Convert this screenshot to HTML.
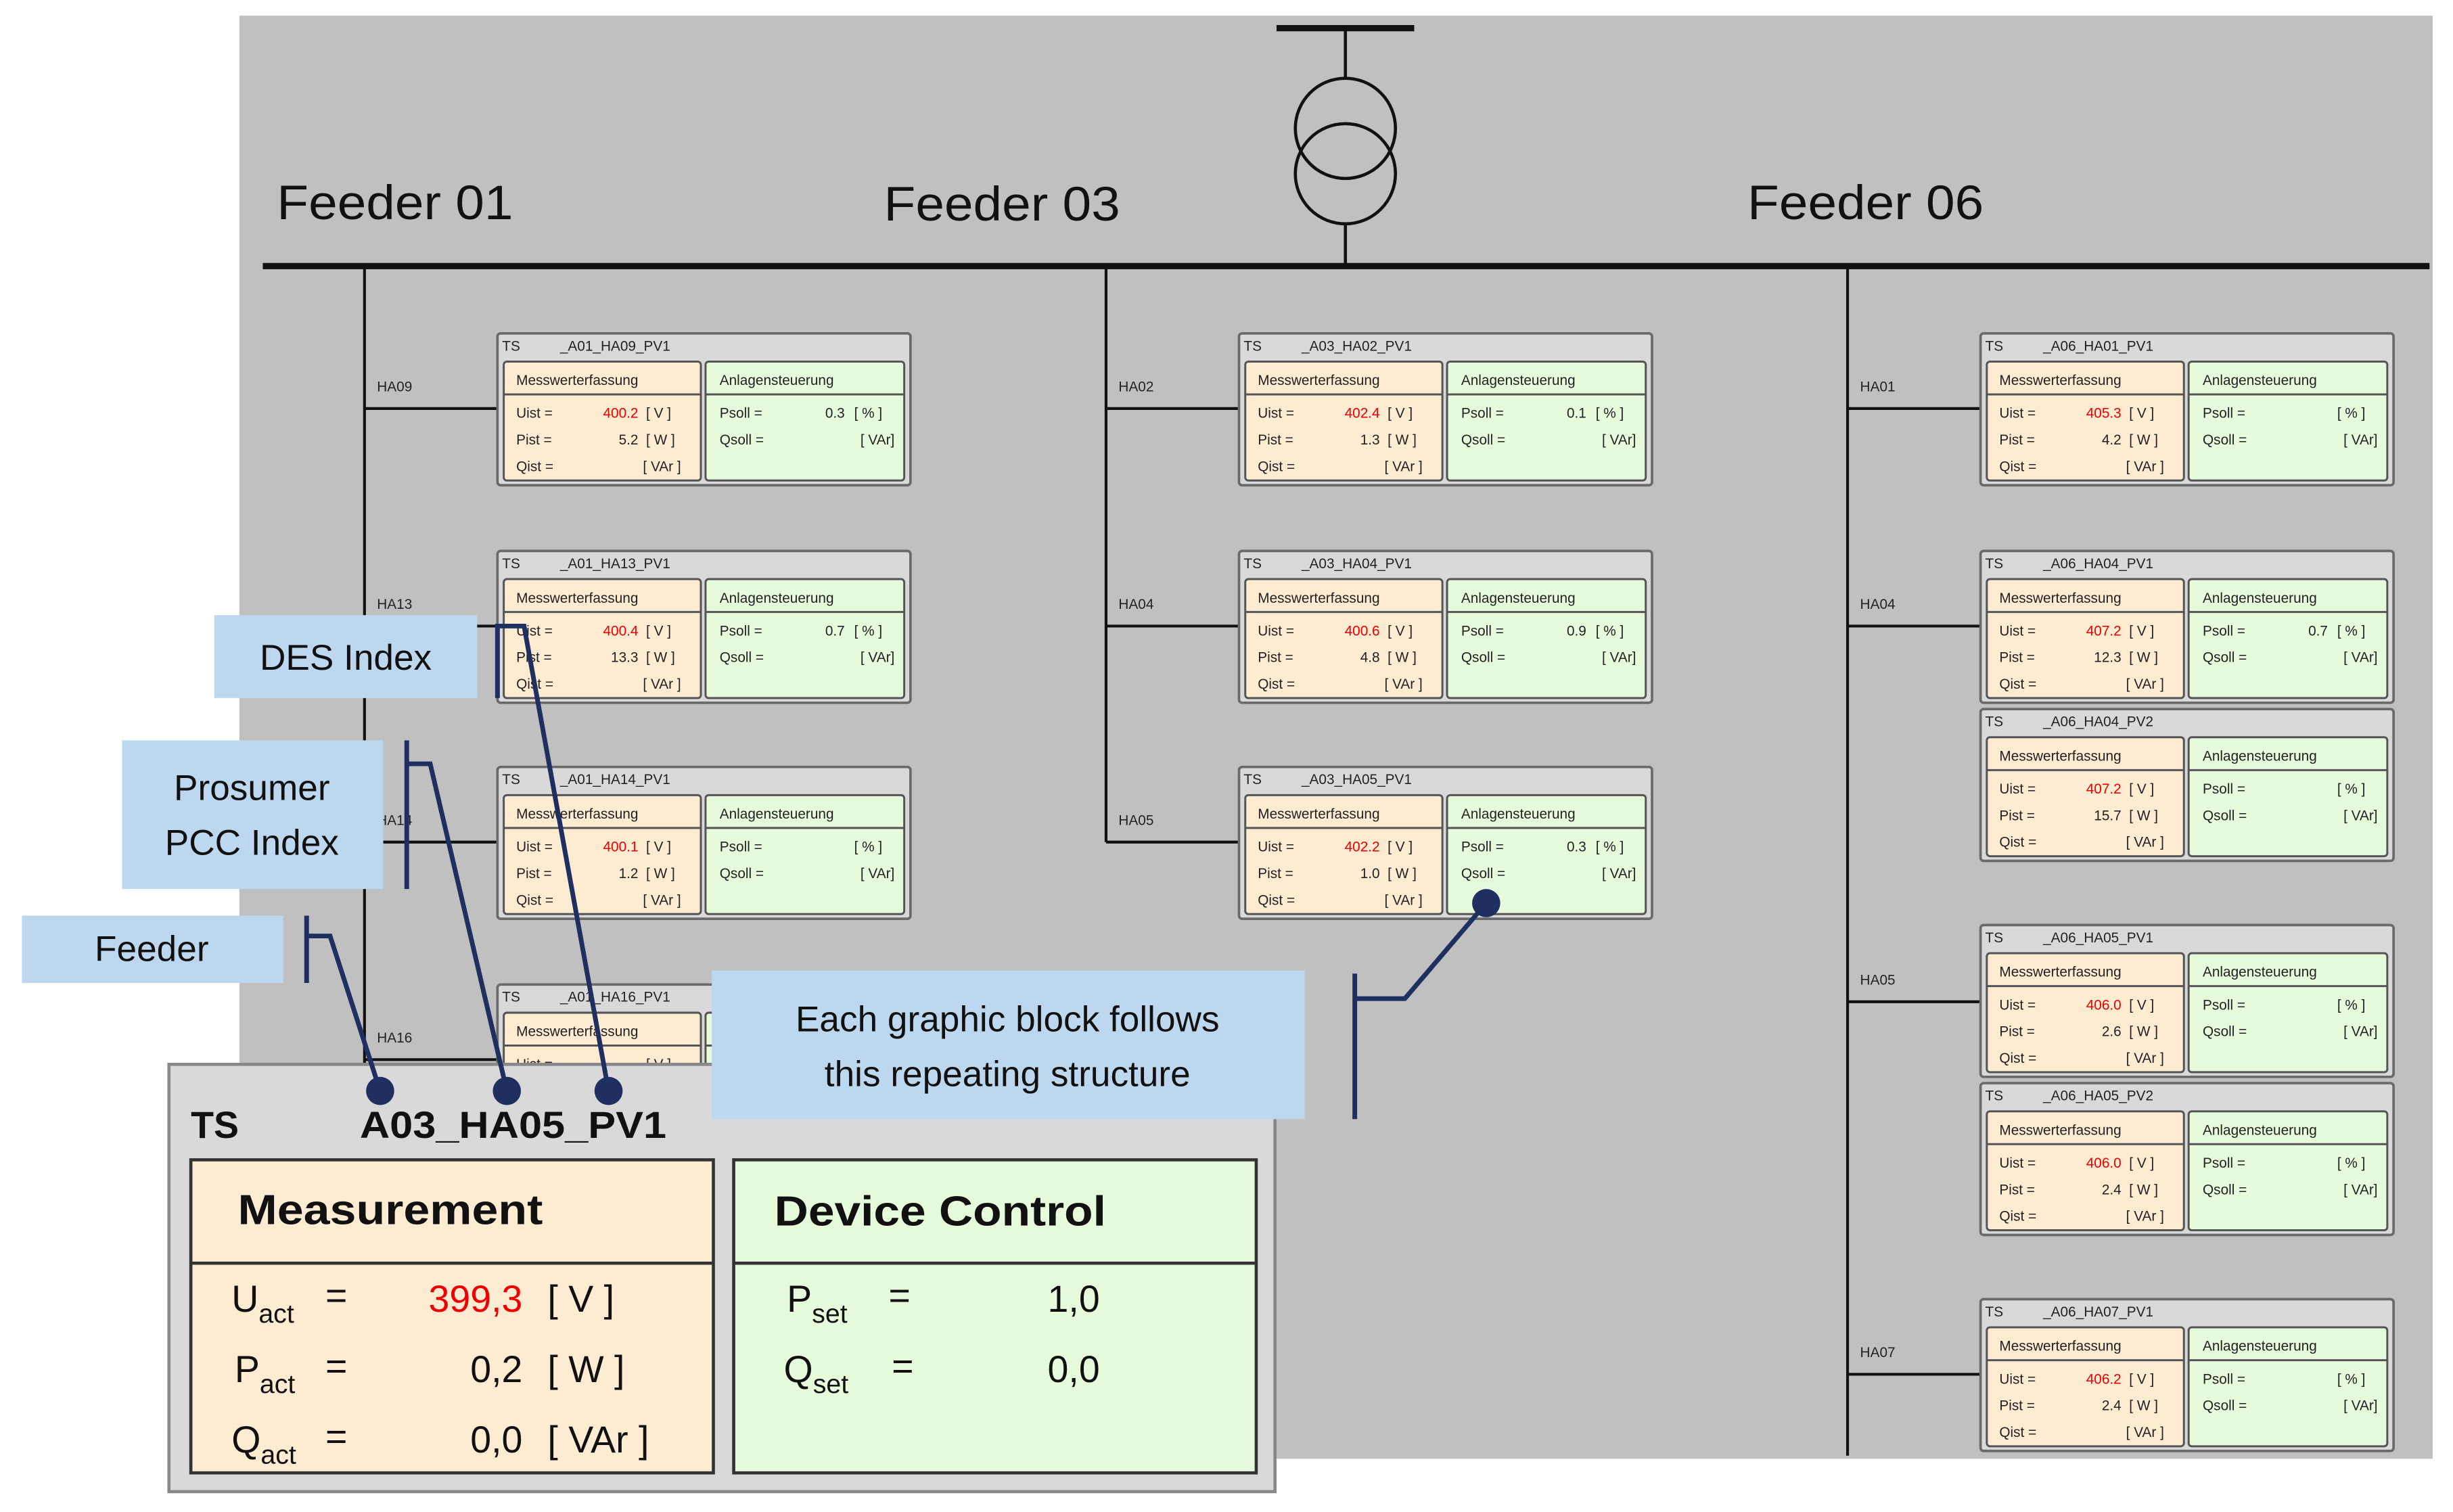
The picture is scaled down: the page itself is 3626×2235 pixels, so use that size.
<!DOCTYPE html>
<html><head><meta charset="utf-8"><style>
html,body{margin:0;padding:0;background:#fff;}
svg{display:block;}
text{font-family:"Liberation Sans",sans-serif;}
.s{font-size:9px;fill:#222;}
.r{font-size:9px;fill:#e00;}
</style></head><body>
<svg width="3626" height="2235" viewBox="0 0 1568 966" preserveAspectRatio="none" xmlns="http://www.w3.org/2000/svg">
<defs>
<g id="frame">
<rect x="0" y="0" width="264" height="97" rx="2" fill="#d9d9d9" stroke="#6a6a6a" stroke-width="1.6"/>
<rect x="4" y="18" width="126" height="76" rx="2" fill="#fdebd2" stroke="#555" stroke-width="1.3"/>
<line x1="4" y1="39" x2="130" y2="39" stroke="#555" stroke-width="1.3"/>
<rect x="133" y="18" width="127" height="76" rx="2" fill="#e6fbdc" stroke="#555" stroke-width="1.3"/>
<line x1="133" y1="39" x2="260" y2="39" stroke="#555" stroke-width="1.3"/>
<text class="s" x="3" y="11">TS</text>
<text class="s" x="12" y="33">Messwerterfassung</text>
<text class="s" x="142" y="33">Anlagensteuerung</text>
<text class="s" x="12" y="54">Uist  =</text>
<text class="s" x="12" y="71">Pist  =</text>
<text class="s" x="12" y="88">Qist  =</text>
<text class="s" x="95" y="54">[ V ]</text>
<text class="s" x="95" y="71">[ W ]</text>
<text class="s" x="93" y="88">[ VAr ]</text>
<text class="s" x="142" y="54">Psoll  =</text>
<text class="s" x="142" y="71">Qsoll  =</text>
<text class="s" x="228" y="54">[ % ]</text>
<text class="s" x="232" y="71">[ VAr]</text>
</g>
</defs>
<rect x="153" y="10" width="1402" height="922" fill="#c0c0c0"/>
<rect x="816" y="16" width="88" height="4" fill="#111"/>
<line x1="860" y1="18" x2="860" y2="50" stroke="#111" stroke-width="2"/>
<circle cx="860" cy="82" r="32" fill="none" stroke="#111" stroke-width="2"/>
<circle cx="860" cy="111" r="32" fill="none" stroke="#111" stroke-width="2"/>
<line x1="860" y1="143" x2="860" y2="170" stroke="#111" stroke-width="2"/>
<rect x="168" y="168" width="1385" height="4" fill="#111"/>
<text x="177" y="140" font-size="31" fill="#111" textLength="151" lengthAdjust="spacingAndGlyphs">Feeder 01</text>
<text x="565" y="141" font-size="31" fill="#111" textLength="151" lengthAdjust="spacingAndGlyphs">Feeder 03</text>
<text x="1117" y="140" font-size="31" fill="#111" textLength="151" lengthAdjust="spacingAndGlyphs">Feeder 06</text>
<g stroke="#111" stroke-width="1.8">
<line x1="233" y1="170" x2="233" y2="690"/>
<line x1="707" y1="170" x2="707" y2="538"/>
<line x1="1181" y1="170" x2="1181" y2="930"/>
<line x1="233" y1="261" x2="318" y2="261"/>
<line x1="233" y1="400" x2="318" y2="400"/>
<line x1="233" y1="538" x2="318" y2="538"/>
<line x1="233" y1="677" x2="318" y2="677"/>
<line x1="707" y1="261" x2="792" y2="261"/>
<line x1="707" y1="400" x2="792" y2="400"/>
<line x1="707" y1="538" x2="792" y2="538"/>
<line x1="1181" y1="261" x2="1266" y2="261"/>
<line x1="1181" y1="400" x2="1266" y2="400"/>
<line x1="1181" y1="640" x2="1266" y2="640"/>
<line x1="1181" y1="878" x2="1266" y2="878"/>
</g>
<text class="s" x="241" y="250">HA09</text>
<text class="s" x="241" y="389">HA13</text>
<text class="s" x="241" y="527">HA14</text>
<text class="s" x="241" y="666">HA16</text>
<text class="s" x="715" y="250">HA02</text>
<text class="s" x="715" y="389">HA04</text>
<text class="s" x="715" y="527">HA05</text>
<text class="s" x="1189" y="250">HA01</text>
<text class="s" x="1189" y="389">HA04</text>
<text class="s" x="1189" y="629">HA05</text>
<text class="s" x="1189" y="867">HA07</text>
<g transform="translate(318,213)"><use href="#frame"/><text class="s" x="40" y="11">_A01_HA09_PV1</text><text class="r" x="90" y="54" text-anchor="end">400.2</text><text class="s" x="90" y="71" text-anchor="end">5.2</text><text class="s" x="222" y="54" text-anchor="end">0.3</text></g>
<g transform="translate(318,352)"><use href="#frame"/><text class="s" x="40" y="11">_A01_HA13_PV1</text><text class="r" x="90" y="54" text-anchor="end">400.4</text><text class="s" x="90" y="71" text-anchor="end">13.3</text><text class="s" x="222" y="54" text-anchor="end">0.7</text></g>
<g transform="translate(318,490)"><use href="#frame"/><text class="s" x="40" y="11">_A01_HA14_PV1</text><text class="r" x="90" y="54" text-anchor="end">400.1</text><text class="s" x="90" y="71" text-anchor="end">1.2</text></g>
<g transform="translate(318,629)"><use href="#frame"/><text class="s" x="40" y="11">_A01_HA16_PV1</text></g>
<g transform="translate(792,213)"><use href="#frame"/><text class="s" x="40" y="11">_A03_HA02_PV1</text><text class="r" x="90" y="54" text-anchor="end">402.4</text><text class="s" x="90" y="71" text-anchor="end">1.3</text><text class="s" x="222" y="54" text-anchor="end">0.1</text></g>
<g transform="translate(792,352)"><use href="#frame"/><text class="s" x="40" y="11">_A03_HA04_PV1</text><text class="r" x="90" y="54" text-anchor="end">400.6</text><text class="s" x="90" y="71" text-anchor="end">4.8</text><text class="s" x="222" y="54" text-anchor="end">0.9</text></g>
<g transform="translate(792,490)"><use href="#frame"/><text class="s" x="40" y="11">_A03_HA05_PV1</text><text class="r" x="90" y="54" text-anchor="end">402.2</text><text class="s" x="90" y="71" text-anchor="end">1.0</text><text class="s" x="222" y="54" text-anchor="end">0.3</text></g>
<g transform="translate(1266,213)"><use href="#frame"/><text class="s" x="40" y="11">_A06_HA01_PV1</text><text class="r" x="90" y="54" text-anchor="end">405.3</text><text class="s" x="90" y="71" text-anchor="end">4.2</text></g>
<g transform="translate(1266,352)"><use href="#frame"/><text class="s" x="40" y="11">_A06_HA04_PV1</text><text class="r" x="90" y="54" text-anchor="end">407.2</text><text class="s" x="90" y="71" text-anchor="end">12.3</text><text class="s" x="222" y="54" text-anchor="end">0.7</text></g>
<g transform="translate(1266,453)"><use href="#frame"/><text class="s" x="40" y="11">_A06_HA04_PV2</text><text class="r" x="90" y="54" text-anchor="end">407.2</text><text class="s" x="90" y="71" text-anchor="end">15.7</text></g>
<g transform="translate(1266,591)"><use href="#frame"/><text class="s" x="40" y="11">_A06_HA05_PV1</text><text class="r" x="90" y="54" text-anchor="end">406.0</text><text class="s" x="90" y="71" text-anchor="end">2.6</text></g>
<g transform="translate(1266,692)"><use href="#frame"/><text class="s" x="40" y="11">_A06_HA05_PV2</text><text class="r" x="90" y="54" text-anchor="end">406.0</text><text class="s" x="90" y="71" text-anchor="end">2.4</text></g>
<g transform="translate(1266,830)"><use href="#frame"/><text class="s" x="40" y="11">_A06_HA07_PV1</text><text class="r" x="90" y="54" text-anchor="end">406.2</text><text class="s" x="90" y="71" text-anchor="end">2.4</text></g>
<rect x="108" y="680" width="707" height="273" fill="#d9d9d9" stroke="#888" stroke-width="2"/>
<rect x="122" y="741" width="334" height="200" fill="#fdebd2" stroke="#333" stroke-width="2"/>
<line x1="122" y1="807" x2="456" y2="807" stroke="#333" stroke-width="2"/>
<rect x="469" y="741" width="334" height="200" fill="#e6fbdc" stroke="#333" stroke-width="2"/>
<line x1="469" y1="807" x2="803" y2="807" stroke="#333" stroke-width="2"/>
<text x="122" y="727" font-size="24" font-weight="bold" fill="#111">TS</text>
<text x="230" y="727" font-size="24" font-weight="bold" fill="#111" textLength="196" lengthAdjust="spacingAndGlyphs">A03_HA05_PV1</text>
<text x="152" y="782" font-size="27" font-weight="bold" fill="#111" textLength="195" lengthAdjust="spacingAndGlyphs">Measurement</text>
<text x="495" y="783" font-size="27" font-weight="bold" fill="#111" textLength="212" lengthAdjust="spacingAndGlyphs">Device Control</text>
<g font-size="24" fill="#111">
<text x="148" y="838">U<tspan font-size="17" dy="7">act</tspan></text>
<text x="150" y="883">P<tspan font-size="17" dy="7">act</tspan></text>
<text x="148" y="928">Q<tspan font-size="17" dy="7">act</tspan></text>
<text x="208" y="836">=</text><text x="208" y="881">=</text><text x="208" y="926">=</text>
<text x="334" y="838" text-anchor="end" fill="#e00">399,3</text>
<text x="334" y="883" text-anchor="end">0,2</text>
<text x="334" y="928" text-anchor="end">0,0</text>
<text x="350" y="838">[ V ]</text>
<text x="350" y="883">[ W ]</text>
<text x="350" y="928">[ VAr ]</text>
<text x="503" y="838">P<tspan font-size="17" dy="7">set</tspan></text>
<text x="501" y="883">Q<tspan font-size="17" dy="7">set</tspan></text>
<text x="568" y="836">=</text><text x="570" y="881">=</text>
<text x="703" y="838" text-anchor="end">1,0</text>
<text x="703" y="883" text-anchor="end">0,0</text>
</g>
<rect x="137" y="393" width="168" height="53" fill="#bdd7ee"/>
<text x="221" y="428" font-size="23" text-anchor="middle" fill="#111">DES Index</text>
<rect x="78" y="473" width="167" height="95" fill="#bdd7ee"/>
<text x="161" y="511" font-size="23" text-anchor="middle" fill="#111">Prosumer</text>
<text x="161" y="546" font-size="23" text-anchor="middle" fill="#111">PCC Index</text>
<rect x="14" y="585" width="167" height="43" fill="#bdd7ee"/>
<text x="97" y="614" font-size="23" text-anchor="middle" fill="#111">Feeder</text>
<rect x="455" y="620" width="379" height="95" fill="#bdd7ee"/>
<text x="644" y="659" font-size="23" text-anchor="middle" fill="#111">Each graphic block follows</text>
<text x="644" y="694" font-size="23" text-anchor="middle" fill="#111">this repeating structure</text>
<g stroke="#1f3060" stroke-width="3" fill="none">
<polyline points="318,446 318,400 335,400 389,697"/>
<polyline points="260,568 260,473 260,488 275,488 324,697"/>
<polyline points="196,628 196,585 196,598 211,598 243,697"/>
<polyline points="866,715 866,622 866,638 898,638 950,577"/>
</g>
<g fill="#1f3060">
<circle cx="243" cy="697" r="9"/><circle cx="324" cy="697" r="9"/><circle cx="389" cy="697" r="9"/><circle cx="950" cy="577" r="9"/>
</g>
</svg>
</body></html>
